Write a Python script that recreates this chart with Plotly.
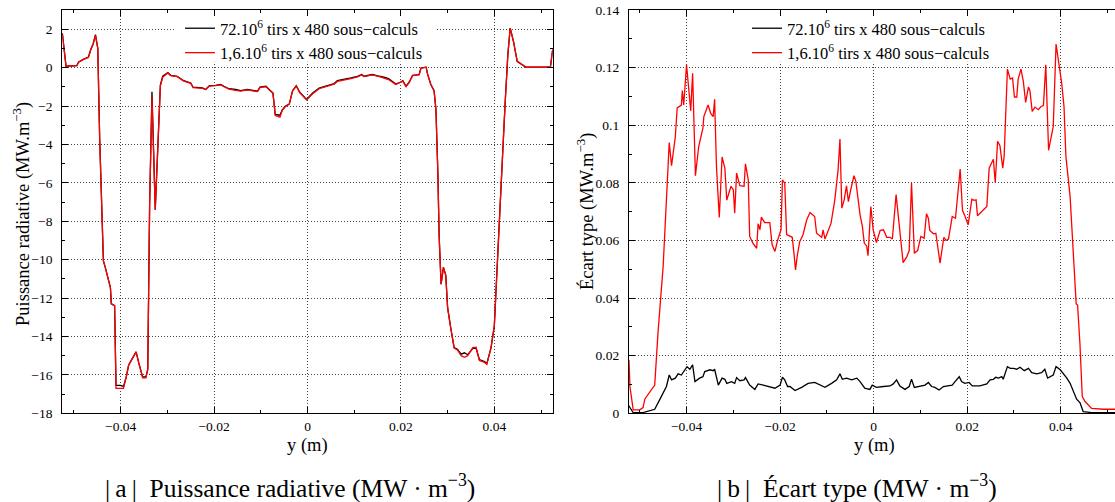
import plotly.graph_objects as go

W, H = 1115, 502


def fx(px):
    return px / W


def fy(py):
    return (H - py) / H


# ---------------- Data: (a) Puissance radiative ----------------
pr_y = [-0.0525, -0.0517, -0.0494, -0.0490, -0.0479, -0.0469, -0.0464, -0.0459, -0.0454, -0.0449,
        -0.0445, -0.0440, -0.0437, -0.0433, -0.0427, -0.0422, -0.0420, -0.0413, -0.0410, -0.0401,
        -0.0394, -0.0388, -0.0383, -0.0374, -0.0367, -0.0361, -0.0353, -0.0346, -0.0342, -0.0338,
        -0.0333, -0.0326, -0.0320, -0.0315, -0.0310, -0.0304, -0.0299, -0.0293, -0.0279, -0.0265,
        -0.0250, -0.0245, -0.0225, -0.0218, -0.0210, -0.0197, -0.0186, -0.0179, -0.0168, -0.0154,
        -0.0143, -0.0129, -0.0118, -0.0107, -0.0102, -0.0089, -0.0082, -0.0074, -0.0069, -0.0059,
        -0.0054, -0.0047, -0.0039, -0.0032, -0.0024, -0.0017, -0.0002, 0.0011, 0.0025, 0.0043,
        0.0057, 0.0064, 0.0079, 0.0093, 0.0107, 0.0116, 0.0121, 0.0129, 0.0139, 0.0154,
        0.0168, 0.0175, 0.0189, 0.0200, 0.0204, 0.0211, 0.0218, 0.0225, 0.0239, 0.0243,
        0.0254, 0.0257, 0.0264, 0.0271, 0.0275, 0.0279, 0.0282, 0.0286, 0.0291, 0.0296,
        0.0300, 0.0307, 0.0314, 0.0321, 0.0329, 0.0336, 0.0343, 0.0354, 0.0361, 0.0368,
        0.0379, 0.0384, 0.0389, 0.0393, 0.0400, 0.0407, 0.0414, 0.0423, 0.0429, 0.0434,
        0.0441, 0.0449, 0.0468, 0.0520, 0.0525]

pr_72M = [1.80, 0.07, 0.10, 0.30, 0.45, 0.55, 0.94, 1.23, 1.72, 1.00,
          -3.66, -7.10, -10.07, -10.40, -10.90, -11.45, -12.30, -12.40, -16.55, -16.55,
          -16.60, -16.10, -15.50, -15.10, -14.80, -15.40, -16.10, -16.10, -15.70, -7.10,
          -1.26, -7.40, -3.30, -0.90, -0.45, -0.33, -0.26, -0.40, -0.45, -0.68,
          -0.80, -1.02, -1.06, -1.14, -0.94, -0.92, -0.88, -0.97, -1.10, -1.14,
          -1.20, -1.14, -1.20, -1.23, -1.02, -0.97, -1.14, -1.33, -2.44, -2.48,
          -2.20, -2.00, -1.90, -1.20, -0.94, -1.27, -1.66, -1.32, -1.06, -0.92,
          -0.83, -0.68, -0.62, -0.54, -0.45, -0.36, -0.45, -0.40, -0.36, -0.45,
          -0.52, -0.60, -0.86, -0.75, -0.68, -0.97, -0.75, -0.40, -0.36, -0.02,
          0.02, -0.33, -0.88, -1.20, -2.18, -5.40, -8.86, -11.28, -10.40, -10.80,
          -12.50, -13.60, -14.58, -14.66, -14.92, -14.85, -14.95, -14.62, -14.62, -15.20,
          -15.30, -15.40, -15.00, -14.58, -13.45, -9.55, -6.40, -1.92, 0.68, 2.06,
          1.37, 0.33, 0.02, 0.02, 0.94]

pr_1M6 = [1.80, 0.07, 0.10, 0.28, 0.43, 0.53, 0.94, 1.23, 1.68, 1.00,
          -3.66, -7.10, -10.07, -10.40, -10.90, -11.45, -12.30, -12.40, -16.70, -16.70,
          -16.70, -16.10, -15.50, -15.10, -14.80, -15.40, -16.15, -16.15, -15.70, -7.10,
          -1.55, -7.40, -3.30, -0.95, -0.50, -0.38, -0.28, -0.42, -0.47, -0.70,
          -0.82, -1.04, -1.08, -1.14, -0.96, -0.94, -0.90, -0.99, -1.12, -1.18,
          -1.22, -1.16, -1.22, -1.25, -1.04, -0.99, -1.16, -1.33, -2.50, -2.58,
          -2.22, -2.02, -1.90, -1.22, -0.96, -1.29, -1.68, -1.36, -1.10, -0.96,
          -0.86, -0.72, -0.65, -0.57, -0.48, -0.38, -0.47, -0.42, -0.38, -0.47,
          -0.56, -0.64, -0.88, -0.77, -0.70, -0.99, -0.77, -0.42, -0.38, -0.03,
          0.02, -0.33, -0.88, -1.20, -2.18, -5.40, -8.86, -11.28, -10.40, -10.80,
          -12.50, -13.60, -14.60, -14.70, -15.00, -15.08, -15.00, -14.58, -14.56, -15.25,
          -15.35, -15.45, -15.00, -14.58, -13.45, -9.55, -6.40, -1.92, 0.68, 2.06,
          1.37, 0.33, 0.02, 0.02, 0.94]

# ---------------- Data: (b) Ecart type ----------------
sd_y_72M = [-0.0525, -0.0514, -0.0493, -0.0468, -0.0454, -0.0443, -0.0437, -0.0432, -0.0424, -0.0418,
            -0.0411, -0.0405, -0.0399, -0.0393, -0.0387, -0.0382, -0.0372, -0.0365, -0.0361, -0.0350,
            -0.0343, -0.0340, -0.0332, -0.0324, -0.0318, -0.0314, -0.0304, -0.0297, -0.0293, -0.0286,
            -0.0277, -0.0274, -0.0265, -0.0254, -0.0247, -0.0236, -0.0222, -0.0211, -0.0200, -0.0195,
            -0.0190, -0.0184, -0.0179, -0.0168, -0.0154, -0.0140, -0.0126, -0.0115, -0.0104, -0.0090,
            -0.0079, -0.0072, -0.0067, -0.0058, -0.0047, -0.0036, -0.0029, -0.0019, -0.0008, -0.0003,
            0.0006, 0.0021, 0.0035, 0.0042, 0.0049, 0.0056, 0.0067, 0.0076, 0.0081, 0.0087,
            0.0099, 0.0110, 0.0117, 0.0124, 0.0131, 0.0140, 0.0149, 0.0160, 0.0168, 0.0174,
            0.0183, 0.0188, 0.0195, 0.0204, 0.0211, 0.0227, 0.0242, 0.0249, 0.0256, 0.0261,
            0.0267, 0.0274, 0.0277, 0.0286, 0.0292, 0.0299, 0.0306, 0.0313, 0.0322, 0.0331,
            0.0338, 0.0349, 0.0359, 0.0366, 0.0372, 0.0384, 0.0390, 0.0399, 0.0406, 0.0413,
            0.0420, 0.0427, 0.0434, 0.0441, 0.0448, 0.0466, 0.0525]

sd_72M = [0.0030, 0.0002, 0.0002, 0.0014, 0.0058, 0.0093, 0.0133, 0.0116, 0.0122, 0.0137,
          0.0133, 0.0148, 0.0162, 0.0153, 0.0168, 0.0110, 0.0122, 0.0127, 0.0145, 0.0151,
          0.0148, 0.0153, 0.0098, 0.0122, 0.0118, 0.0104, 0.0110, 0.0104, 0.0124, 0.0113,
          0.0116, 0.0124, 0.0098, 0.0083, 0.0102, 0.0098, 0.0093, 0.0087, 0.0098, 0.0125,
          0.0116, 0.0093, 0.0093, 0.0079, 0.0090, 0.0104, 0.0107, 0.0098, 0.0090, 0.0104,
          0.0116, 0.0137, 0.0118, 0.0122, 0.0116, 0.0122, 0.0110, 0.0087, 0.0083, 0.0098,
          0.0090, 0.0093, 0.0095, 0.0102, 0.0116, 0.0095, 0.0083, 0.0093, 0.0118, 0.0090,
          0.0095, 0.0098, 0.0107, 0.0093, 0.0090, 0.0081, 0.0093, 0.0095, 0.0098, 0.0110,
          0.0127, 0.0110, 0.0104, 0.0107, 0.0095, 0.0095, 0.0102, 0.0116, 0.0118, 0.0125,
          0.0122, 0.0127, 0.0118, 0.0162, 0.0156, 0.0156, 0.0153, 0.0160, 0.0148, 0.0156,
          0.0141, 0.0137, 0.0141, 0.0153, 0.0122, 0.0133, 0.0162, 0.0151, 0.0137, 0.0122,
          0.0104, 0.0075, 0.0049, 0.0037, 0.0006, 0.0002, 0.0002]

sd_y_1M6 = [-0.0523, -0.0521, -0.0514, -0.0500, -0.0493, -0.0489, -0.0468, -0.0461, -0.0450, -0.0443,
            -0.0437, -0.0432, -0.0424, -0.0420, -0.0411, -0.0409, -0.0406, -0.0400, -0.0397, -0.0391,
            -0.0387, -0.0381, -0.0374, -0.0369, -0.0365, -0.0363, -0.0354, -0.0348, -0.0343, -0.0340,
            -0.0336, -0.0330, -0.0324, -0.0318, -0.0314, -0.0305, -0.0300, -0.0297, -0.0293, -0.0286,
            -0.0277, -0.0274, -0.0268, -0.0265, -0.0258, -0.0250, -0.0247, -0.0243, -0.0240, -0.0233,
            -0.0222, -0.0217, -0.0211, -0.0205, -0.0198, -0.0195, -0.0190, -0.0186, -0.0181, -0.0174,
            -0.0170, -0.0167, -0.0163, -0.0158, -0.0151, -0.0147, -0.0143, -0.0136, -0.0126, -0.0122,
            -0.0111, -0.0108, -0.0104, -0.0091, -0.0083, -0.0076, -0.0072, -0.0068, -0.0063, -0.0058,
            -0.0054, -0.0049, -0.0042, -0.0038, -0.0029, -0.0024, -0.0020, -0.0015, -0.0012, -0.0006,
            -0.0001, 0.0006, 0.0014, 0.0021, 0.0028, 0.0035, 0.0040, 0.0048, 0.0055, 0.0063,
            0.0071, 0.0076, 0.0081, 0.0087, 0.0094, 0.0101, 0.0108, 0.0113, 0.0117, 0.0120,
            0.0128, 0.0133, 0.0137, 0.0142, 0.0150, 0.0155, 0.0160, 0.0168, 0.0175, 0.0185,
            0.0190, 0.0195, 0.0202, 0.0210, 0.0215, 0.0219, 0.0222, 0.0235, 0.0242, 0.0247,
            0.0256, 0.0260, 0.0265, 0.0270, 0.0276, 0.0279, 0.0286, 0.0292, 0.0297, 0.0301,
            0.0306, 0.0309, 0.0315, 0.0320, 0.0325, 0.0331, 0.0334, 0.0339, 0.0345, 0.0352,
            0.0358, 0.0363, 0.0368, 0.0374, 0.0384, 0.0390, 0.0396, 0.0402, 0.0407, 0.0411,
            0.0420, 0.0427, 0.0433, 0.0436, 0.0441, 0.0446, 0.0452, 0.0466, 0.0491, 0.0525]

sd_1M6 = [0.0185, 0.0093, 0.0012, 0.0012, 0.0020, 0.0050, 0.0098, 0.0280, 0.0510, 0.0720,
          0.0940, 0.0860, 0.0960, 0.1060, 0.1070, 0.1120, 0.1070, 0.1210, 0.1160, 0.1050,
          0.1180, 0.0825, 0.0926, 0.0960, 0.0990, 0.1030, 0.1070, 0.1040, 0.1030, 0.1090,
          0.0857, 0.0680, 0.0890, 0.0850, 0.0740, 0.0788, 0.0776, 0.0695, 0.0834, 0.0790,
          0.0788, 0.0866, 0.0810, 0.0614, 0.0590, 0.0573, 0.0658, 0.0637, 0.0681, 0.0662,
          0.0662, 0.0585, 0.0562, 0.0602, 0.0637, 0.0810, 0.0799, 0.0620, 0.0616, 0.0611,
          0.0550, 0.0498, 0.0550, 0.0596, 0.0620, 0.0648, 0.0672, 0.0697, 0.0683, 0.0625,
          0.0611, 0.0637, 0.0605, 0.0660, 0.0741, 0.0845, 0.0952, 0.0712, 0.0741, 0.0790,
          0.0735, 0.0776, 0.0825, 0.0805, 0.0689, 0.0648, 0.0591, 0.0581, 0.0547, 0.0718,
          0.0637, 0.0593, 0.0635, 0.0637, 0.0611, 0.0611, 0.0605, 0.0759, 0.0648, 0.0523,
          0.0544, 0.0565, 0.0799, 0.0556, 0.0565, 0.0614, 0.0608, 0.0693, 0.0677, 0.0635,
          0.0623, 0.0625, 0.0579, 0.0521, 0.0611, 0.0600, 0.0605, 0.0683, 0.0677, 0.0848,
          0.0704, 0.0686, 0.0654, 0.0743, 0.0739, 0.0741, 0.0686, 0.0706, 0.0718, 0.0851,
          0.0882, 0.0801, 0.0944, 0.0929, 0.0851, 0.0892, 0.1195, 0.1160, 0.1164, 0.1098,
          0.1098, 0.1160, 0.1195, 0.1152, 0.1079, 0.1133, 0.1121, 0.1048, 0.1063, 0.1054,
          0.1065, 0.1068, 0.1210, 0.0913, 0.0996, 0.1282, 0.1210, 0.1146, 0.1065, 0.0892,
          0.0753, 0.0533, 0.0380, 0.0376, 0.0243, 0.0058, 0.0041, 0.0017, 0.0014, 0.0014]

# ---------------- Labels ----------------
series_names = ["72.10<sup>6</sup> tirs x 480 sous\u2212calculs",
                "1,6.10<sup>6</sup> tirs x 480 sous\u2212calculs"]
series_colors = ["#000000", "#ff0000"]

x_tickvals = [-0.04, -0.02, 0, 0.02, 0.04]
x_ticktext = ["\u22120.04", "\u22120.02", "0", "0.02", "0.04"]
pr_tickvals = [2, 0, -2, -4, -6, -8, -10, -12, -14, -16, -18]
pr_ticktext = ["2", "0", "\u22122", "\u22124", "\u22126", "\u22128", "\u221210",
               "\u221212", "\u221214", "\u221216", "\u221218"]
sd_tickvals = [0, 0.02, 0.04, 0.06, 0.08, 0.1, 0.12, 0.14]
sd_ticktext = ["0", "0.02", "0.04", "0.06", "0.08", "0.1", "0.12", "0.14"]

FONT = "Liberation Serif"

fig = go.Figure()
fig.add_trace(go.Scatter(x=pr_y, y=pr_72M, mode="lines", name=series_names[0],
                         line=dict(color=series_colors[0], width=1.3),
                         xaxis="x", yaxis="y", legend="legend"))
fig.add_trace(go.Scatter(x=pr_y, y=pr_1M6, mode="lines", name=series_names[1],
                         line=dict(color=series_colors[1], width=1.3),
                         xaxis="x", yaxis="y", legend="legend"))
fig.add_trace(go.Scatter(x=sd_y_72M, y=sd_72M, mode="lines", name=series_names[0],
                         line=dict(color=series_colors[0], width=1.3),
                         xaxis="x2", yaxis="y2", legend="legend2"))
fig.add_trace(go.Scatter(x=sd_y_1M6, y=sd_1M6, mode="lines", name=series_names[1],
                         line=dict(color=series_colors[1], width=1.3),
                         xaxis="x2", yaxis="y2", legend="legend2"))

grid = dict(showgrid=True, gridcolor="#444444", gridwidth=1, griddash="1px,2px",
            zeroline=False, showline=True, linecolor="black", linewidth=1.3,
            ticks="inside", ticklen=6, tickwidth=1, tickcolor="black",
            automargin=False,
            tickfont=dict(family=FONT, size=13.5, color="black"))

ydom = [fy(413.3), fy(10)]

fig.update_layout(
    template="none",
    width=W, height=H,
    margin=dict(l=0, r=0, t=0, b=0, autoexpand=False),
    paper_bgcolor="white", plot_bgcolor="white",
    xaxis=dict(domain=[fx(62.3), fx(552.7)], range=[-0.0525, 0.0525],
               tickmode="array", tickvals=x_tickvals, ticktext=x_ticktext,
               mirror="ticks", anchor="y", ticklabelstandoff=0,
               minor=dict(tickmode="linear", tick0=-0.05, dtick=0.02, ticks="inside",
                          ticklen=3, tickcolor="black", showgrid=False),
               **grid),
    yaxis=dict(domain=ydom, range=[-18, 3],
               tickmode="array", tickvals=pr_tickvals, ticktext=pr_ticktext,
               mirror="ticks", anchor="x", ticklabelstandoff=6,
               minor=dict(tickmode="linear", tick0=-17, dtick=2, ticks="inside",
                          ticklen=3, tickcolor="black", showgrid=False),
               **grid),
    xaxis2=dict(domain=[fx(629), 1.0], range=[-0.0523, 0.0516],
                tickmode="array", tickvals=x_tickvals, ticktext=x_ticktext,
                mirror="ticks", anchor="y2", ticklabelstandoff=0,
                minor=dict(tickmode="linear", tick0=-0.05, dtick=0.02, ticks="inside",
                           ticklen=3, tickcolor="black", showgrid=False),
                **grid),
    yaxis2=dict(domain=ydom, range=[0, 0.14],
                tickmode="array", tickvals=sd_tickvals, ticktext=sd_ticktext,
                mirror=False, anchor="x2", ticklabelstandoff=6,
                minor=dict(tickmode="linear", tick0=0.01, dtick=0.02, ticks="inside",
                           ticklen=3, tickcolor="black", showgrid=False),
                **grid),
    legend=dict(x=fx(180), y=fy(11), xanchor="left", yanchor="top",
                bgcolor="rgba(0,0,0,0)", borderwidth=0,
                font=dict(family=FONT, size=16.5, color="black"), tracegroupgap=0),
    legend2=dict(x=fx(747), y=fy(11), xanchor="left", yanchor="top",
                 bgcolor="rgba(0,0,0,0)", borderwidth=0,
                 font=dict(family=FONT, size=16.5, color="black"), tracegroupgap=0),
    showlegend=True,
)

# white boxes behind the legends: above the grid, below the curves
fig.add_shape(type="rect", xref="x", yref="y", x0=-0.0284, x1=0.0277, y0=0.3, y1=3.0,
              fillcolor="white", line=dict(width=0), layer="between")
fig.add_shape(type="rect", xref="x2", yref="y2", x0=-0.0281, x1=0.0281, y0=0.122, y1=0.14,
              fillcolor="white", line=dict(width=0), layer="between")

ann_font = dict(family=FONT, size=18.5, color="black")
annotations = [
    dict(text="y (m)", x=fx(307.5), y=fy(445), xref="paper", yref="paper",
         showarrow=False, font=ann_font, xanchor="center", yanchor="middle"),
    dict(text="y (m)", x=fx(874), y=fy(445), xref="paper", yref="paper",
         showarrow=False, font=ann_font, xanchor="center", yanchor="middle"),
    dict(text="Puissance radiative (MW.m<sup>\u22123</sup>)", x=fx(22), y=fy(214),
         xref="paper", yref="paper", showarrow=False, font=ann_font, textangle=-90,
         xanchor="center", yanchor="middle"),
    dict(text="\u00c9cart type (MW.m<sup>\u22123</sup>)", x=fx(586), y=fy(212),
         xref="paper", yref="paper", showarrow=False, font=ann_font, textangle=-90,
         xanchor="center", yanchor="middle"),
    dict(text="|\u2009a\u2009|\u2002Puissance radiative (MW \u00b7 m<sup>\u22123</sup>)",
         x=fx(290), y=fy(486), xref="paper", yref="paper", showarrow=False,
         font=dict(family=FONT, size=25.5, color="black"), xanchor="center", yanchor="middle"),
    dict(text="|\u2009b\u2009|\u2002\u00c9cart type (MW \u00b7 m<sup>\u22123</sup>)",
         x=fx(857), y=fy(486), xref="paper", yref="paper", showarrow=False,
         font=dict(family=FONT, size=25.5, color="black"), xanchor="center", yanchor="middle"),
]
fig.update_layout(annotations=annotations)

# remove the default 8px page margin so the figure fills the window exactly
fig.write_html("out.html", config={"displayModeBar": False},
               post_script="document.body.style.margin='0';document.body.style.overflow='hidden';")
